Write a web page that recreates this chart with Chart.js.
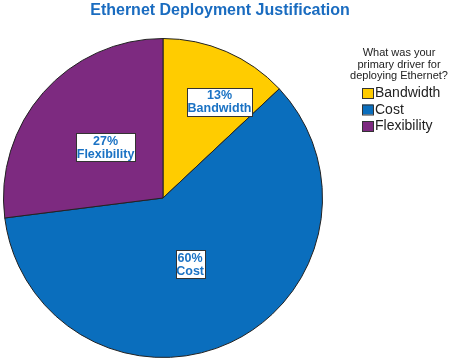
<!DOCTYPE html>
<html>
<head>
<meta charset="utf-8">
<script src="https://cdn.jsdelivr.net/npm/chart.js@4/dist/chart.umd.min.js"></script>
<style>
  html, body { margin: 0; padding: 0; background: #fff; }
  #wrap { width: 450px; height: 363px; position: relative; }
</style>
</head>
<body>
<div id="wrap"><canvas id="grafico"></canvas></div>
<script>
const categorias = ['Bandwidth', 'Cost', 'Flexibility']
const percentuais = [13, 60, 27]
const cores = ['#FFCC00', '#0A6EBD', '#7D2A80']

// posicao dos rotulos (fracao do raio e desvio do angulo medio, graus)
const rotuloDist = [0.70, 0.45, 0.48]
const rotuloDesvio = [7, 3, 0]

const titulo = 'Ethernet Deployment Justification'
const tituloLegenda = ['What was your', 'primary driver for', 'deploying Ethernet?']

const desenhoExtra = {
    id: 'desenhoExtra',
    afterDatasetsDraw(chart) {
        const ctx = chart.ctx
        const meta = chart.getDatasetMeta(0)
        ctx.save()

        // rotulos das fatias
        ctx.font = 'bold 12.5px "Liberation Sans", Arial, sans-serif'
        ctx.textAlign = 'center'
        ctx.textBaseline = 'middle'
        meta.data.forEach((arc, i) => {
            const p = arc.getProps(['x', 'y', 'startAngle', 'endAngle', 'outerRadius'], true)
            const meio = (p.startAngle + p.endAngle) / 2 + rotuloDesvio[i] * Math.PI / 180
            const r = p.outerRadius * rotuloDist[i]
            const cx = p.x + Math.cos(meio) * r
            const cy = p.y + Math.sin(meio) * r
            const l1 = percentuais[i] + '%'
            const l2 = categorias[i]
            const w = Math.round(Math.max(ctx.measureText(l1).width, ctx.measureText(l2).width) + 1)
            const h = 28
            const x0 = Math.round(cx - w / 2)
            const y0 = Math.round(cy - h / 2)
            ctx.fillStyle = '#fff'
            ctx.fillRect(x0, y0, w, h)
            ctx.strokeStyle = '#333'
            ctx.lineWidth = 1
            ctx.strokeRect(x0 + 0.5, y0 + 0.5, w, h)
            ctx.fillStyle = '#1A72C4'
            ctx.fillText(l1, cx, cy - 6)
            ctx.fillText(l2, cx, cy + 7)
        })

        // titulo
        ctx.font = 'bold 16px "Liberation Sans", Arial, sans-serif'
        ctx.fillStyle = '#1A6CC0'
        ctx.fillText(titulo, 220, 11)

        // legenda
        ctx.font = '11px "Liberation Sans", Arial, sans-serif'
        ctx.fillStyle = '#222'
        tituloLegenda.forEach((t, i) => ctx.fillText(t, 399, 53 + i * 11.5))

        ctx.textAlign = 'left'
        ctx.font = '14px "Liberation Sans", Arial, sans-serif'
        categorias.forEach((c, i) => {
            const y = 88 + i * 16.5
            ctx.fillStyle = cores[i]
            ctx.fillRect(362, y, 11, 10)
            ctx.strokeStyle = '#333'
            ctx.strokeRect(362.5, y + 0.5, 11, 10)
            ctx.fillStyle = '#222'
            ctx.fillText(c, 375, y + 5.5)
        })
        ctx.restore()
    }
}

new Chart(document.getElementById('grafico'), {
    type: 'pie',
    data: {
        labels: categorias,
        datasets: [{
            data: percentuais,
            backgroundColor: cores,
            borderColor: '#222',
            borderWidth: 1
        }]
    },
    options: {
        responsive: true,
        maintainAspectRatio: false,
        animation: false,
        layout: {
            padding: { left: 3, top: 38, right: 127, bottom: 5 }
        },
        plugins: {
            legend: { display: false },
            tooltip: { enabled: false }
        }
    },
    plugins: [desenhoExtra]
})
</script>
</body>
</html>
